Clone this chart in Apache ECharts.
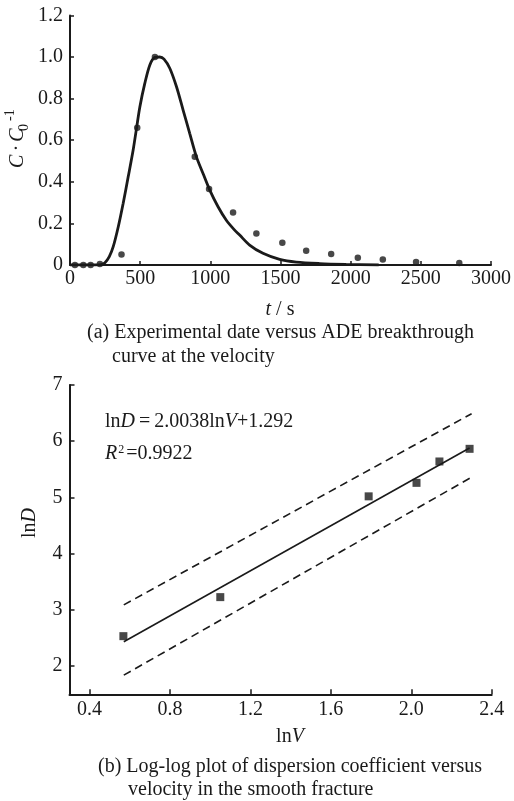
<!DOCTYPE html>
<html><head><meta charset="utf-8">
<script src="https://cdn.jsdelivr.net/npm/echarts@6/dist/echarts.min.js"></script>
<style>html,body{margin:0;padding:0;background:#fff}#c{width:514px;height:801px}</style>
</head><body><div id="c"></div>
<script>
// ---- Panel (a) data ----
const expT = [35, 95, 147, 213, 367, 479, 605, 889, 991, 1162, 1328, 1513, 1683, 1861, 2051, 2229, 2466, 2774];
const expC = [0, 0, 0, 0.005, 0.05, 0.66, 1.0, 0.52, 0.365, 0.252, 0.152, 0.107, 0.069, 0.053, 0.035, 0.026, 0.014, 0.01];
const curveT = [0, 150, 220, 249, 280, 308, 344, 379, 415, 450, 474, 498, 533, 569, 605, 640, 670, 711, 759, 806, 853, 901, 948, 996, 1055, 1114, 1170, 1209, 1280, 1375, 1494, 1612, 1778, 1968, 2200];
const curveC = [0, 0, 0.002, 0.011, 0.04, 0.088, 0.184, 0.297, 0.425, 0.553, 0.657, 0.761, 0.873, 0.962, 0.998, 1.0, 0.99, 0.946, 0.857, 0.745, 0.633, 0.52, 0.44, 0.36, 0.28, 0.215, 0.17, 0.144, 0.096, 0.056, 0.027, 0.014, 0.007, 0.003, 0];
const xTicksA = [0, 500, 1000, 1500, 2000, 2500, 3000];
const yTicksA = [0, 0.2, 0.4, 0.6, 0.8, 1.0, 1.2];
// ---- Panel (b) data ----
const lnV = [0.568, 1.05, 1.788, 2.026, 2.14, 2.29];
const lnD = [2.534, 3.228, 5.02, 5.26, 5.64, 5.865];
const fitX = [0.57, 2.29];
const fitY = [2.434, 5.88];
const upX = [0.57, 2.3];
const upY = [3.09, 6.49];
const loX = [0.57, 2.3];
const loY = [1.84, 5.36];
const xTicksB = [0.4, 0.8, 1.2, 1.6, 2.0, 2.4];
const yTicksB = [2, 3, 4, 5, 6, 7];

const zip = (a, b) => a.map((v, i) => [v, b[i]]);
const FF = '"Liberation Serif", "Times New Roman", serif';
const INK = '#1a1a1a';
const FS = 20;
const axisCommon = {
  axisLine: { show: true, lineStyle: { color: INK, width: 2 } },
  axisTick: { show: true, inside: true, length: 4, lineStyle: { color: INK, width: 1.5 } },
  axisLabel: { fontFamily: FF, fontSize: FS, color: INK },
  splitLine: { show: false }
};
const ital = { fontStyle: 'italic', fontFamily: FF, fontSize: FS };

const chart = echarts.init(document.getElementById('c'), null, { renderer: 'canvas' });
chart.setOption({
  animation: false,
  backgroundColor: '#fff',
  grid: [
    { left: 70, top: 15.4, width: 421.7, height: 249.6 },
    { left: 69.5, top: 385, width: 422.2, height: 309.3 }
  ],
  xAxis: [
    Object.assign({}, axisCommon, { type: 'value', gridIndex: 0, min: 0, max: 3000, interval: 500,
      axisLabel: Object.assign({}, axisCommon.axisLabel, { margin: 4, customValues: xTicksA, formatter: v => String(v) }),
      axisTick: Object.assign({}, axisCommon.axisTick, { customValues: xTicksA }) }),
    Object.assign({}, axisCommon, { type: 'value', gridIndex: 1, min: 0.3, max: 2.4,
      axisLabel: Object.assign({}, axisCommon.axisLabel, { margin: 5, customValues: xTicksB, formatter: v => v.toFixed(1) }),
      axisTick: Object.assign({}, axisCommon.axisTick, { length: 5, customValues: xTicksB }) })
  ],
  yAxis: [
    Object.assign({}, axisCommon, { type: 'value', gridIndex: 0, min: 0, max: 1.2, interval: 0.2,
      axisLabel: Object.assign({}, axisCommon.axisLabel, { margin: 7, customValues: yTicksA, formatter: v => v === 0 ? '0' : v.toFixed(1) }),
      axisTick: Object.assign({}, axisCommon.axisTick, { customValues: yTicksA }) }),
    Object.assign({}, axisCommon, { type: 'value', gridIndex: 1, min: 1.5, max: 7,
      axisLabel: Object.assign({}, axisCommon.axisLabel, { margin: 7, customValues: yTicksB }),
      axisTick: Object.assign({}, axisCommon.axisTick, { length: 5, customValues: yTicksB }) })
  ],
  series: [
    { type: 'line', xAxisIndex: 0, yAxisIndex: 0, data: zip(curveT, curveC), smooth: 0.3, showSymbol: false,
      lineStyle: { color: INK, width: 2.8 }, z: 3 },
    { type: 'scatter', xAxisIndex: 0, yAxisIndex: 0, data: zip(expT, expC), symbol: 'circle', symbolSize: 6.5,
      itemStyle: { color: INK }, z: 4 },
    { type: 'line', xAxisIndex: 1, yAxisIndex: 1, data: zip(fitX, fitY), showSymbol: false,
      lineStyle: { color: INK, width: 1.6 } },
    { type: 'line', xAxisIndex: 1, yAxisIndex: 1, data: zip(upX, upY), showSymbol: false,
      lineStyle: { color: INK, width: 1.6, type: [8, 5] } },
    { type: 'line', xAxisIndex: 1, yAxisIndex: 1, data: zip(loX, loY), showSymbol: false,
      lineStyle: { color: INK, width: 1.6, type: [8, 5] } },
    { type: 'scatter', xAxisIndex: 1, yAxisIndex: 1, data: zip(lnV, lnD), symbol: 'rect', symbolSize: 8,
      itemStyle: { color: INK }, z: 4 }
  ],
  graphic: [
    // y label panel (a), rotated
    { type: 'group', x: 18, y: 168, rotation: Math.PI / 2, children: [
      { type: 'text', x: 0, y: 0, style: { text: 'C\u2009·\u2009C', font: 'italic 20px ' + FF, fill: INK, textAlign: 'left', textVerticalAlign: 'middle' } },
      { type: 'text', x: 37, y: 6, style: { text: '0', font: '14px ' + FF, fill: INK, textAlign: 'left', textVerticalAlign: 'middle' } },
      { type: 'text', x: 47, y: -8, style: { text: '-1', font: '14px ' + FF, fill: INK, textAlign: 'left', textVerticalAlign: 'middle' } }
    ] },
    // x label panel (a)
    { type: 'text', x: 280, y: 310, style: { text: '{i|t} / s', rich: { i: ital }, fontFamily: FF, fontSize: FS, fill: INK, align: 'center', verticalAlign: 'middle' } },
    { type: 'text', x: 87, y: 333, style: { text: '(a) Experimental date versus ADE breakthrough', font: FS + 'px ' + FF, fill: INK, textAlign: 'left', textVerticalAlign: 'middle' } },
    { type: 'text', x: 112, y: 357, style: { text: 'curve at the velocity', font: FS + 'px ' + FF, fill: INK, textAlign: 'left', textVerticalAlign: 'middle' } },
    // equation panel (b)
    { type: 'text', x: 105, y: 422, style: { text: 'ln{i|D}\u2009=\u20092.0038ln{i|V}+1.292', rich: { i: ital }, fontFamily: FF, fontSize: FS, fill: INK, align: 'left', verticalAlign: 'middle' } },
    { type: 'text', x: 105, y: 454, style: { text: '{i|R}{s|2}=0.9922', rich: { i: ital, s: { fontFamily: FF, fontSize: 12, padding: [0, 2, 9, 1] } }, fontFamily: FF, fontSize: FS, fill: INK, align: 'left', verticalAlign: 'middle' } },
    // y label panel (b)
    { type: 'text', x: 30, y: 523, rotation: Math.PI / 2, style: { text: 'ln{i|D}', rich: { i: ital }, fontFamily: FF, fontSize: FS, fill: INK, align: 'center', verticalAlign: 'middle' } },
    // x label panel (b)
    { type: 'text', x: 290, y: 737, style: { text: 'ln{i|V}', rich: { i: ital }, fontFamily: FF, fontSize: FS, fill: INK, align: 'center', verticalAlign: 'middle' } },
    { type: 'text', x: 98, y: 767, style: { text: '(b) Log-log plot of dispersion coefficient versus', font: FS + 'px ' + FF, fill: INK, textAlign: 'left', textVerticalAlign: 'middle' } },
    { type: 'text', x: 128, y: 790, style: { text: 'velocity in the smooth fracture', font: FS + 'px ' + FF, fill: INK, textAlign: 'left', textVerticalAlign: 'middle' } }
  ]
});
</script>
</body></html>
